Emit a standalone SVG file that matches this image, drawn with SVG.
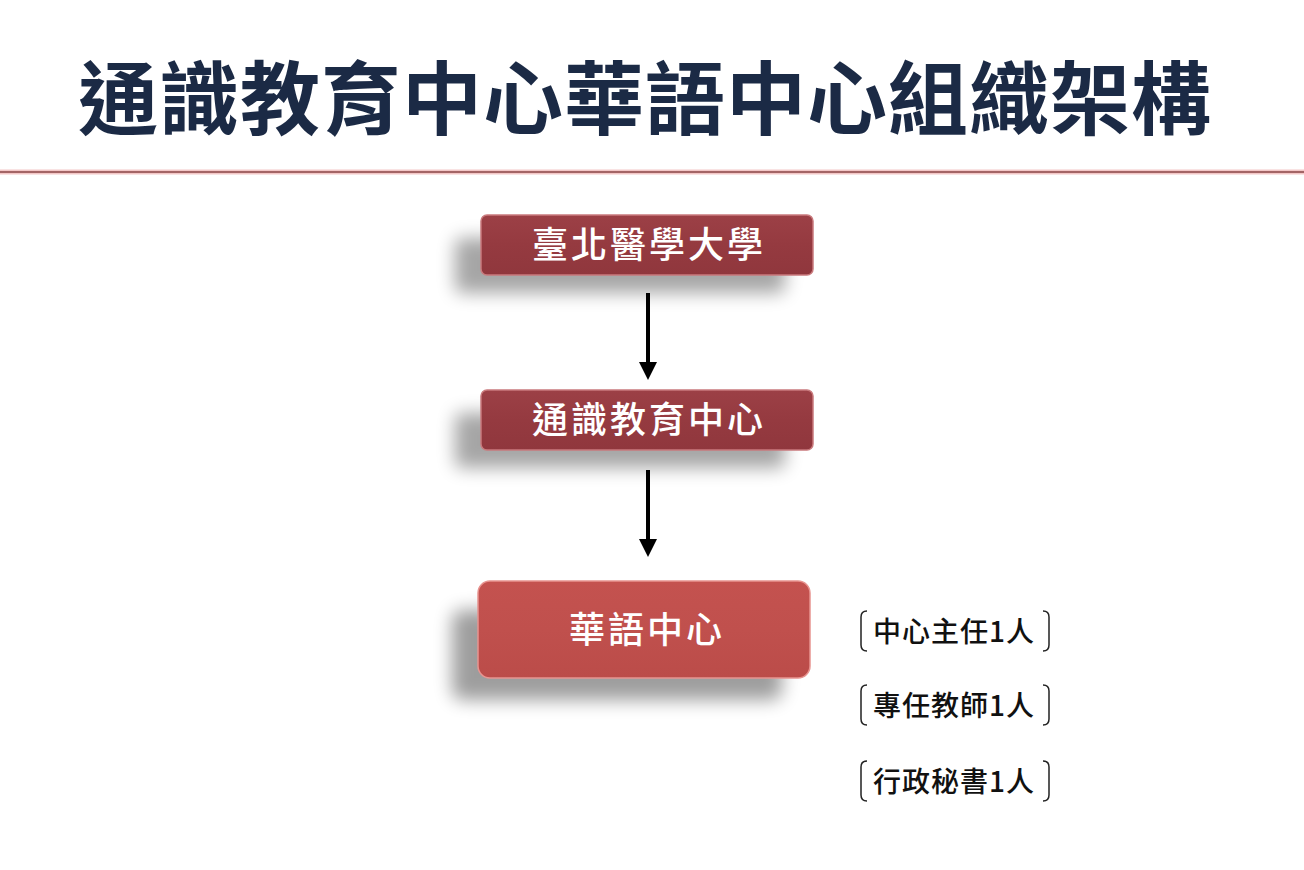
<svg xmlns="http://www.w3.org/2000/svg" width="1304" height="870" viewBox="0 0 1304 870">
  <style>
    .title { font-family: "Noto Sans CJK TC", "Noto Sans", sans-serif; font-size: 80px; font-weight: 700; fill: #1b2a45; letter-spacing: 1px; }
    .nodeText { font-family: "Noto Sans CJK TC", "Noto Sans", sans-serif; font-size: 36px; font-weight: 500; fill: #ffffff; letter-spacing: 3px; }
    .note { font-family: "Noto Sans CJK TC", "Noto Sans", sans-serif; font-size: 28px; font-weight: 500; fill: #111111; letter-spacing: 1px; }
    .bracket { fill: none; stroke: #222222; stroke-width: 1.5; }
    .conn { stroke: #000000; stroke-width: 4; fill: none; }
    .head { fill: #000000; }
  </style>
  <defs>
    <filter id="shadow" x="-30%" y="-60%" width="160%" height="260%">
      <feGaussianBlur stdDeviation="9"/>
    </filter>
    <linearGradient id="darkFill" x1="0" y1="0" x2="0" y2="1">
      <stop offset="0" stop-color="#9c4046"/>
      <stop offset="0.5" stop-color="#953a40"/>
      <stop offset="1" stop-color="#90373d"/>
    </linearGradient>
    <linearGradient id="lightFill" x1="0" y1="0" x2="0" y2="1">
      <stop offset="0" stop-color="#c4524f"/>
      <stop offset="0.5" stop-color="#c0504d"/>
      <stop offset="1" stop-color="#bb4c49"/>
    </linearGradient>
  </defs>

  <rect width="1304" height="870" fill="#ffffff"/>

  <!-- heading -->
  <text class="title" x="645" y="128" text-anchor="middle">通識教育中心華語中心組織架構</text>
  <line x1="0" y1="172" x2="1304" y2="172" stroke="#f3c7c7" stroke-width="5"/>
  <line x1="0" y1="172" x2="1304" y2="172" stroke="#8a4446" stroke-width="1.6"/>

  <!-- connectors -->
  <g id="connectors">
    <line class="conn" x1="648" y1="293" x2="648" y2="364"/>
    <polygon class="head" points="639,362 657,362 648,380"/>
    <line class="conn" x1="648" y1="470" x2="648" y2="541"/>
    <polygon class="head" points="639,539 657,539 648,557"/>
  </g>

  <!-- nodes -->
  <g id="node-tmu">
    <rect x="455" y="238" width="330" height="55" rx="6" fill="#000000" opacity="0.35" filter="url(#shadow)"/>
    <rect x="481" y="215" width="332" height="60" rx="6" fill="url(#darkFill)" stroke="#c97a7d" stroke-width="1.5"/>
    <text class="nodeText" x="649" y="258" text-anchor="middle">臺北醫學大學</text>
  </g>

  <g id="node-ge">
    <rect x="455" y="413" width="330" height="55" rx="6" fill="#000000" opacity="0.35" filter="url(#shadow)"/>
    <rect x="481" y="390" width="332" height="60" rx="6" fill="url(#darkFill)" stroke="#c97a7d" stroke-width="1.5"/>
    <text class="nodeText" x="649" y="433" text-anchor="middle">通識教育中心</text>
  </g>

  <g id="node-mandarin">
    <rect x="452" y="610" width="330" height="90" rx="10" fill="#000000" opacity="0.38" filter="url(#shadow)"/>
    <rect x="478" y="581" width="332" height="97" rx="12" fill="url(#lightFill)" stroke="#e89490" stroke-width="1.5"/>
    <text class="nodeText" x="647" y="643" text-anchor="middle">華語中心</text>
  </g>

  <!-- staffing notes -->
  <g id="note-director">
    <path class="bracket" d="M867,611 Q861,611 861,617 L861,645 Q861,651 867,651"/>
    <path class="bracket" d="M1043,611 Q1049,611 1049,617 L1049,645 Q1049,651 1043,651"/>
    <text class="note" x="873" y="642">中心主任1人</text>
  </g>
  <g id="note-teacher">
    <path class="bracket" d="M867,685 Q861,685 861,691 L861,719 Q861,725 867,725"/>
    <path class="bracket" d="M1043,685 Q1049,685 1049,691 L1049,719 Q1049,725 1043,725"/>
    <text class="note" x="873" y="716">專任教師1人</text>
  </g>
  <g id="note-secretary">
    <path class="bracket" d="M867,761 Q861,761 861,767 L861,795 Q861,801 867,801"/>
    <path class="bracket" d="M1043,761 Q1049,761 1049,767 L1049,795 Q1049,801 1043,801"/>
    <text class="note" x="873" y="792">行政秘書1人</text>
  </g>
</svg>
